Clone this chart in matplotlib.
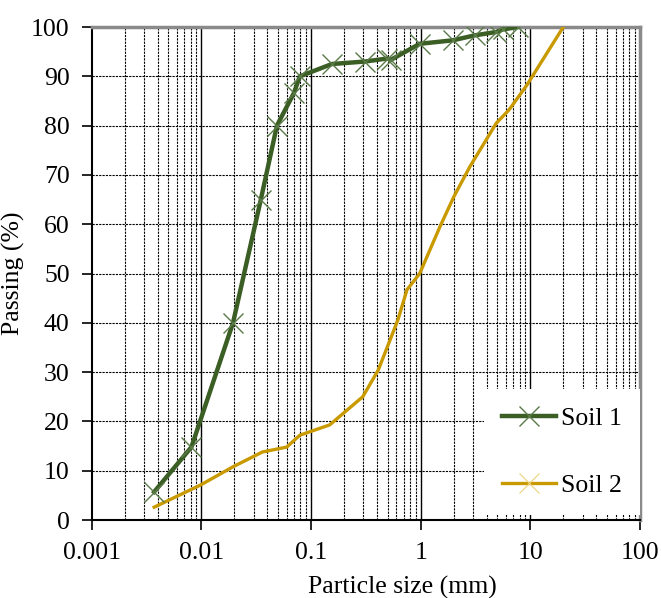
import matplotlib
matplotlib.use("Agg")
import matplotlib.pyplot as plt
from matplotlib.lines import Line2D
from matplotlib.ticker import LogLocator

plt.rcParams['font.family'] = ['Liberation Serif', 'DejaVu Serif']

# Soil 1 (measured points, shown with markers)
soil1_size = [0.0037, 0.0081, 0.0194, 0.0348, 0.0488, 0.0697, 0.079, 0.155,
              0.31, 0.49, 0.54, 0.98, 1.96, 3.1, 4.9, 5.6, 7.7]
soil1_pass = [5.7, 14.8, 40.0, 65.0, 80.0, 86.6, 90.0, 92.5,
              93.0, 93.6, 93.4, 96.6, 97.3, 98.3, 99.0, 99.5, 100.0]

# Soil 2 (line only)
soil2_size = [0.0037, 0.0098, 0.0194, 0.036, 0.06, 0.079, 0.148, 0.296, 0.41,
              0.62, 0.75, 0.98, 1.5, 2.0, 2.8, 4.9, 6.4, 9.3, 20.0]
soil2_pass = [2.6, 7.1, 10.8, 13.8, 14.8, 17.2, 19.3, 25.0, 30.4,
              40.6, 46.7, 50.0, 59.5, 65.5, 71.6, 80.5, 83.2, 88.2, 100.0]

x_ticks = [0.001, 0.01, 0.1, 1, 10, 100]
x_tick_labels = ['0.001', '0.01', '0.1', '1', '10', '100']
y_ticks = list(range(0, 101, 10))

green = '#3b5e25'
green_mk = '#5a7a48'
gold = '#c99a00'
gold_mk = '#ecd27a'

fig = plt.figure(figsize=(6.61, 5.98), dpi=100)
ax = fig.add_axes([0.139, 0.1304, 0.829, 0.8244])

ax.set_xscale('log')
ax.set_xlim(0.001, 100)
ax.set_ylim(0, 100)

# grid
ax.xaxis.set_minor_locator(LogLocator(base=10, subs=range(2, 10)))
ax.grid(True, which='minor', axis='x', color='black', lw=0.8, ls=(0, (2, 1)), zorder=0)
ax.grid(True, which='major', axis='y', color='black', lw=0.8, ls=(0, (2, 1)), zorder=0)
for xv in x_ticks[1:-1]:
    ax.axvline(xv, color='black', lw=1.0, zorder=0.5)

ax.plot(soil2_size, soil2_pass, color=gold, lw=2.4, zorder=3)
ax.plot(soil1_size, soil1_pass, color=green, lw=3.2, zorder=4)
ax.plot(soil1_size, soil1_pass, ls='none', marker='x', ms=15, mew=1.0,
        color=green_mk, zorder=5)

ax.set_xticks(x_ticks)
ax.set_xticklabels(x_tick_labels)
ax.xaxis.set_minor_formatter(plt.NullFormatter())
ax.set_yticks(y_ticks)
ax.tick_params(axis='both', which='major', labelsize=18.5, direction='out',
               length=7, width=1.2, pad=9)
ax.tick_params(axis='x', which='minor', length=0)

for s in ['left', 'bottom']:
    ax.spines[s].set_color('black')
    ax.spines[s].set_linewidth(1.5)
for s in ['top', 'right']:
    ax.spines[s].set_color('#8a8a8a')
    ax.spines[s].set_linewidth(2.5)

ax.set_ylabel('Passing (%)', fontsize=18.5)
ax.yaxis.set_label_coords(-0.122, 0.5)
fig.text(402 / 661, 4 / 598, 'Particle size (mm)', fontsize=18.5,
         ha='center', va='baseline')

handles = [
    Line2D([], [], color=green, lw=3.2, marker='x', ms=15, mew=1.0,
           markeredgecolor=green_mk),
    Line2D([], [], color=gold, lw=2.4, marker='x', ms=15, mew=0.8,
           markeredgecolor=gold_mk),
]
leg = ax.legend(handles, ['Soil 1', 'Soil 2'], loc='lower right',
                bbox_to_anchor=(1.0, 0.01), fontsize=18.5, frameon=True,
                fancybox=False, edgecolor='none', facecolor='white',
                framealpha=1, labelspacing=1.7, handlelength=2.1,
                handletextpad=0.2, borderpad=0.7, borderaxespad=0.0)
leg.set_zorder(10)

fig.savefig('out.png', dpi=100)
